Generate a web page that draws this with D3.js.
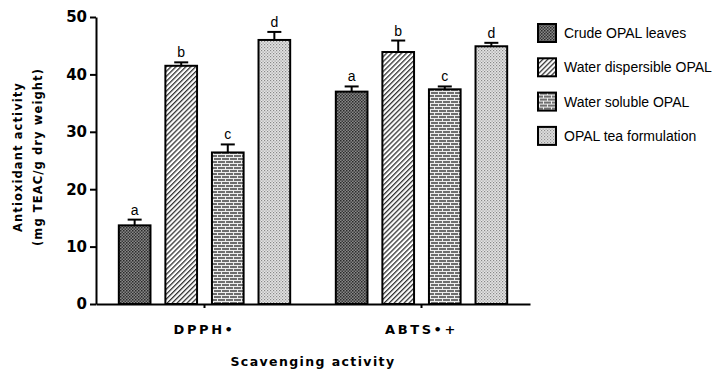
<!DOCTYPE html>
<html lang="en">
<head>
  <meta charset="UTF-8">
  <title>antioxidant activity</title>
  <style>
    body { margin: 0; background: #fff; }
    .axis path, .axis line { stroke: #000; stroke-width: 2px; }
    .axis text { font-family: "DejaVu Sans", sans-serif; font-weight: bold; font-size: 15px; fill: #000; }
    .title { font-family: "DejaVu Sans", sans-serif; font-weight: bold; font-size: 12.5px; letter-spacing: 1.4px; }
    .ytitle { font-size: 11.5px; letter-spacing: 1.1px; }
    .letter, .legend text { font-family: "Liberation Sans", Arial, sans-serif; font-size: 14px; }
  </style>
</head>
<body>
  <svg width="713" height="374"></svg>
  <script src="https://cdn.jsdelivr.net/npm/d3@7"></script>
  <script>
    var groups = ["DPPH\u2022", "ABTS\u2022+"];
    var series = ["Crude OPAL leaves", "Water dispersible OPAL", "Water soluble OPAL", "OPAL tea formulation"];
    var means = [[13.7, 41.5, 26.4, 46.0], [37.0, 43.9, 37.4, 44.9]];
    var errors = [[1.0, 0.6, 1.4, 1.4], [0.9, 2.0, 0.5, 0.6]];
    var letters = ["a", "b", "c", "d"];
    var yTicks = [0, 10, 20, 30, 40, 50];

    var svg = d3.select("svg"),
      margin = {top: 17, right: 183, bottom: 70, left: 96},
      width = +svg.attr("width") - margin.left - margin.right,
      height = +svg.attr("height") - margin.top - margin.bottom;

    // patterns
    var defs = svg.append("defs");
    var p0 = defs.append("pattern").attr("id", "pat0").attr("width", 3).attr("height", 3).attr("patternUnits", "userSpaceOnUse");
    p0.append("rect").attr("width", 3).attr("height", 3).attr("fill", "#888");
    p0.append("rect").attr("width", 1.5).attr("height", 1.5).attr("fill", "#2a2a2a");
    p0.append("rect").attr("x", 1.5).attr("y", 1.5).attr("width", 1.5).attr("height", 1.5).attr("fill", "#3a3a3a");

    var p1 = defs.append("pattern").attr("id", "pat1").attr("width", 3.5).attr("height", 3.5).attr("patternUnits", "userSpaceOnUse")
      .attr("patternTransform", "rotate(45)");
    p1.append("rect").attr("width", 3.5).attr("height", 3.5).attr("fill", "#fff");
    p1.append("rect").attr("width", 1.3).attr("height", 3.5).attr("fill", "#333");

    var p2 = defs.append("pattern").attr("id", "pat2").attr("width", 8).attr("height", 6).attr("patternUnits", "userSpaceOnUse");
    p2.append("rect").attr("width", 8).attr("height", 6).attr("fill", "#6e6e6e");
    p2.append("rect").attr("y", 2).attr("width", 8).attr("height", 1).attr("fill", "#eee");
    p2.append("rect").attr("y", 5).attr("width", 8).attr("height", 1).attr("fill", "#eee");
    p2.append("rect").attr("x", 1).attr("y", 0).attr("width", 1).attr("height", 2).attr("fill", "#eee");
    p2.append("rect").attr("x", 5).attr("y", 3).attr("width", 1).attr("height", 2).attr("fill", "#eee");

    var p3 = defs.append("pattern").attr("id", "pat3").attr("width", 3).attr("height", 3).attr("patternUnits", "userSpaceOnUse");
    p3.append("rect").attr("width", 3).attr("height", 3).attr("fill", "#e4e4e4");
    p3.append("rect").attr("width", 1.2).attr("height", 1.2).attr("fill", "#888");
    p3.append("rect").attr("x", 1.5).attr("y", 1.5).attr("width", 1.2).attr("height", 1.2).attr("fill", "#999");

    var fills = ["url(#pat0)", "url(#pat1)", "url(#pat2)", "url(#pat3)"];

    var g = svg.append("g")
      .attr("transform", "translate(" + margin.left + "," + margin.top + ")");

    var x0 = d3.scaleBand().domain(groups).range([0, width]).padding(0);
    var x1 = d3.scaleBand().domain(series).range([0, x0.bandwidth()]).paddingInner(0.32).paddingOuter(0.49);
    var y = d3.scaleLinear().domain([0, 50]).range([height, 0]);

    // bars
    var grp = g.selectAll(".grp")
      .data(groups)
      .enter().append("g")
      .attr("class", "grp")
      .attr("transform", function(d) { return "translate(" + x0(d) + ",0)"; });

    grp.each(function(gname, gi) {
      var sel = d3.select(this);
      var data = series.map(function(s, i) {
        return {s: s, i: i, v: means[gi][i], e: errors[gi][i]};
      });
      var bar = sel.selectAll(".barg").data(data).enter().append("g");
      var cx = function(d) { return x1(d.s) + x1.bandwidth() / 2; };

      // error bars
      bar.append("line")
        .attr("x1", cx).attr("x2", cx)
        .attr("y1", function(d) { return y(d.v); })
        .attr("y2", function(d) { return y(d.v + d.e); })
        .attr("stroke", "#000").attr("stroke-width", 2);
      bar.append("line")
        .attr("x1", function(d) { return cx(d) - 7; })
        .attr("x2", function(d) { return cx(d) + 7; })
        .attr("y1", function(d) { return y(d.v + d.e); })
        .attr("y2", function(d) { return y(d.v + d.e); })
        .attr("stroke", "#000").attr("stroke-width", 2);

      bar.append("rect")
        .attr("x", function(d) { return x1(d.s); })
        .attr("y", function(d) { return y(d.v); })
        .attr("width", x1.bandwidth())
        .attr("height", function(d) { return height - y(d.v); })
        .attr("fill", function(d) { return fills[d.i]; })
        .attr("stroke", "#000").attr("stroke-width", 2);

      bar.append("text")
        .attr("class", "letter")
        .attr("x", cx)
        .attr("y", function(d) { return y(d.v + d.e) - 5; })
        .attr("text-anchor", "middle")
        .text(function(d) { return letters[d.i]; });
    });

    // add axis-x
    g.append("g")
      .attr("class", "axis axis--x")
      .attr("transform", "translate(0," + height + ")")
      .call(d3.axisBottom(x0).tickSize(4).tickSizeOuter(0).tickPadding(17))
      .selectAll("text")
      .attr("class", "title")
      .style("font-size", "13px")
      .style("letter-spacing", "2.6px");

    // add axis-y
    g.append("g")
      .attr("class", "axis axis--y")
      .call(d3.axisLeft(y).tickValues(yTicks).tickSize(6).tickSizeOuter(0).tickPadding(3));

    // titles
    svg.append("text")
      .attr("class", "title")
      .attr("x", 313)
      .attr("y", 366)
      .attr("text-anchor", "middle")
      .text("Scavenging activity");

    var yt = svg.append("g").attr("transform", "translate(22,157) rotate(-90)");
    yt.append("text").attr("class", "title ytitle").attr("text-anchor", "middle").attr("y", 0).text("Antioxidant activity");
    yt.append("text").attr("class", "title ytitle").attr("text-anchor", "middle").attr("y", 20).text("(mg TEAC/g dry weight)");

    // legend
    var legend = svg.append("g").attr("class", "legend")
      .selectAll("g").data(series).enter().append("g")
      .attr("transform", function(d, i) { return "translate(538," + (24 + i * 34.3) + ")"; });
    legend.append("rect")
      .attr("width", 18).attr("height", 18)
      .attr("fill", function(d, i) { return fills[i]; })
      .attr("stroke", "#000").attr("stroke-width", 2);
    legend.append("text")
      .attr("x", 26).attr("y", 14)
      .text(function(d) { return d; });
  </script>
</body>
</html>
